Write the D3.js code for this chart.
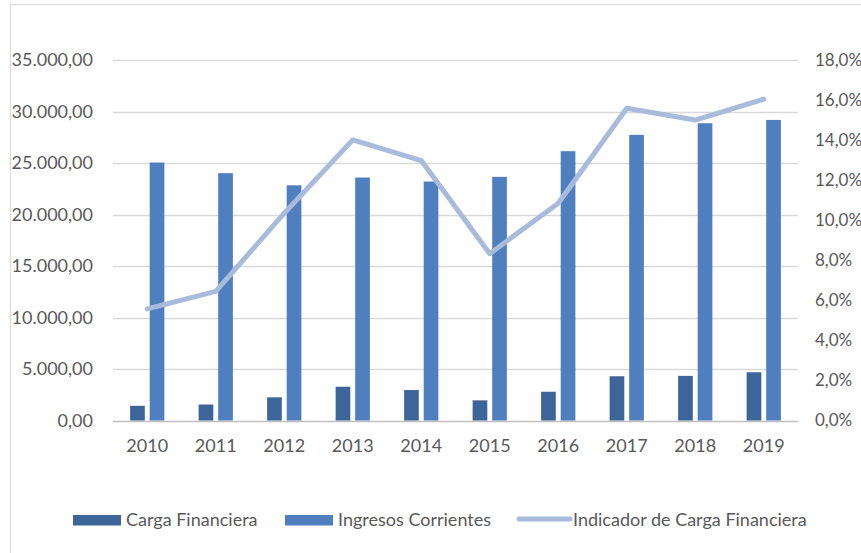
<!DOCTYPE html>
<html>
<head>
<meta charset="utf-8">
<script src="https://cdn.jsdelivr.net/npm/d3@7"></script>
<style>
  body { margin: 0; background: #fff; }
  text { font-family: Lato, "Open Sans", sans-serif; fill: #595959; }
</style>
</head>
<body>
<div id="chart"></div>
<script>
// data
const years = ["2010", "2011", "2012", "2013", "2014", "2015", "2016", "2017", "2018", "2019"];
const cargaFinanciera = [1425, 1551, 2250, 3277, 2957, 1958, 2792, 4296, 4333, 4683];
const ingresosCorrientes = [25043, 24015, 22833, 23590, 23200, 23657, 26147, 27729, 28863, 29183];
const indicador = [0.0557, 0.0645, 0.1035, 0.1401, 0.1298, 0.0833, 0.1085, 0.1559, 0.1500, 0.1604];
const leftTicks = [0, 5000, 10000, 15000, 20000, 25000, 30000, 35000];
const rightTicks = [0, 0.02, 0.04, 0.06, 0.08, 0.10, 0.12, 0.14, 0.16, 0.18];
const seriesNames = ["Carga Financiera", "Ingresos Corrientes", "Indicador de Carga Financiera"];

const colors = { carga: "#3e6599", ingresos: "#4f7fbe", line: "#a8bbdb" };
const W = 861, H = 553;
const plot = { left: 113, right: 798, top: 60, bottom: 420.5 };

const es = d3.formatLocale({ decimal: ",", thousands: ".", grouping: [3], currency: ["", "€"] });
const fmtLeft = es.format(",.2f");
const fmtRight = es.format(".1%");

const svg = d3.select("#chart").append("svg")
    .attr("width", W)
    .attr("height", H);

svg.append("rect").attr("width", W).attr("height", H).attr("fill", "#fff");
// chart frame
svg.append("rect")
    .attr("x", 10.5).attr("y", 4.5)
    .attr("width", W).attr("height", H)
    .attr("fill", "none")
    .attr("stroke", "#d9d9d9");

// scales
const x = d3.scaleBand().domain(years).range([plot.left, plot.right]).padding(0);
const bw = x.bandwidth();
const x1 = d3.scaleBand().domain(["carga", "ingresos"])
    .range([-bw * 0.25, bw * 0.25]).paddingInner(0.25);
const yL = d3.scaleLinear().domain([0, 35000]).range([plot.bottom, plot.top]);
const yR = d3.scaleLinear().domain([0, 0.18]).range([plot.bottom, plot.top]);

// gridlines
svg.append("g")
    .selectAll("line")
    .data(leftTicks)
    .enter()
    .append("line")
    .attr("x1", plot.left).attr("x2", plot.right)
    .attr("y1", d => Math.round(yL(d)) + 0.5)
    .attr("y2", d => Math.round(yL(d)) + 0.5)
    .attr("stroke", d => d === 0 ? "#bfbfbf" : "#d9d9d9")
    .attr("stroke-width", 1.5);

// left axis labels
svg.append("g")
    .selectAll("text")
    .data(leftTicks)
    .enter()
    .append("text")
    .text(d => fmtLeft(d))
    .attr("x", 93)
    .attr("y", d => yL(d))
    .attr("dy", "0.35em")
    .style("text-anchor", "end")
    .style("font-size", "18px");

// right axis labels
svg.append("g")
    .selectAll("text")
    .data(rightTicks)
    .enter()
    .append("text")
    .text(d => fmtRight(d))
    .attr("x", 815)
    .attr("y", d => yR(d))
    .attr("dy", "0.35em")
    .style("text-anchor", "start")
    .style("font-size", "17px");

// year labels
svg.append("g")
    .selectAll("text")
    .data(years)
    .enter()
    .append("text")
    .text(d => d)
    .attr("x", d => x(d) + bw / 2)
    .attr("y", 446)
    .attr("dy", "0.35em")
    .style("text-anchor", "middle")
    .style("font-size", "18px");

// bars
const rows = years.map((yr, i) => ({ year: yr, carga: cargaFinanciera[i], ingresos: ingresosCorrientes[i] }));
const groups = svg.append("g")
    .selectAll("g")
    .data(rows)
    .enter()
    .append("g")
    .attr("transform", d => `translate(${x(d.year) + bw / 2},0)`);

groups.selectAll("rect")
    .data(d => ["carga", "ingresos"].map(k => ({ key: k, value: d[k] })))
    .enter()
    .append("rect")
    .attr("x", d => x1(d.key))
    .attr("width", x1.bandwidth())
    .attr("y", d => yL(d.value))
    .attr("height", d => yL(0) - yL(d.value))
    .attr("fill", d => colors[d.key]);

// indicator line
const line = d3.line()
    .x((d, i) => x(years[i]) + bw / 2)
    .y(d => yR(d));

svg.append("path")
    .datum(indicador)
    .attr("d", line)
    .attr("fill", "none")
    .attr("stroke", colors.line)
    .attr("stroke-width", 5)
    .attr("stroke-linejoin", "round")
    .attr("stroke-linecap", "round");

// legend
const legendY = 520;
const legend = svg.append("g");
const legendItems = [
    { name: seriesNames[0], type: "rect", color: colors.carga, x: 73 },
    { name: seriesNames[1], type: "rect", color: colors.ingresos, x: 285 },
    { name: seriesNames[2], type: "line", color: colors.line, x: 519 }
];
legendItems.forEach(item => {
    if (item.type === "rect") {
        legend.append("rect")
            .attr("x", item.x).attr("y", legendY - 5)
            .attr("width", 48).attr("height", 10.5)
            .attr("fill", item.color);
    } else {
        legend.append("line")
            .attr("x1", item.x).attr("x2", item.x + 51)
            .attr("y1", legendY - 1).attr("y2", legendY - 1)
            .attr("stroke", item.color)
            .attr("stroke-width", 5)
            .attr("stroke-linecap", "round");
    }
    legend.append("text")
        .text(item.name)
        .attr("x", item.x + (item.type === "rect" ? 53 : 54))
        .attr("y", legendY)
        .attr("dy", "0.35em")
        .style("font-size", "18px");
});
</script>
</body>
</html>
